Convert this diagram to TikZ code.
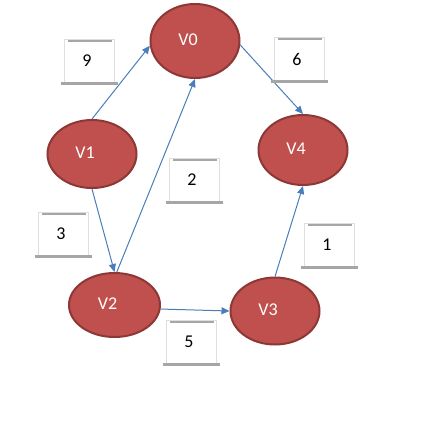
\documentclass[tikz,border=0pt]{standalone}
\usepackage{fontspec}
\setmainfont{Carlito}
\usetikzlibrary{arrows.meta,shapes.geometric}
\definecolor{nodefill}{HTML}{C0504D}
\definecolor{nodeedge}{HTML}{8C3836}
\definecolor{edgeblue}{HTML}{4A7EBB}
\definecolor{framegray}{HTML}{DEDEDE}
\definecolor{linegray}{HTML}{A6A6A6}
\newcommand\wlabel[3]{%
  \node[lbl] (#1) at (#2) {#3\hspace*{4pt}};
  \draw[topl] ([xshift=4pt,yshift=-2.5pt]#1.north west) -- ([xshift=-3pt,yshift=-2.5pt]#1.north east);
  \draw[botl] ([xshift=-3pt]#1.south west) -- ([xshift=3pt]#1.south east);
}
\newcommand\vtext[1]{\raisebox{3pt}{#1}\hspace*{14pt}}
\begin{document}
\begin{tikzpicture}[x=1pt,y=-1pt,
  vert/.style={ellipse, draw=nodeedge, line width=2pt, fill=nodefill,
    minimum width=89pt, minimum height=68pt, inner sep=0pt, text=white,
    font=\fontsize{18}{20}\selectfont},
  conn/.style={draw=edgeblue, line width=1pt, -{Triangle[length=8pt,width=7pt]}},
  lbl/.style={draw=framegray, line width=1pt, minimum width=50pt, minimum height=44pt,
    inner sep=0pt, font=\fontsize{18}{20}\selectfont},
  topl/.style={draw=linegray, line width=2.5pt},
  botl/.style={draw=linegray, line width=2.5pt}]
\fill[white] (0,0) rectangle (423,421);
\useasboundingbox (0,0) rectangle (423,421);

\node[vert, minimum height=74pt] (v0) at (195,41) {\vtext{V0}};
\node[vert] (v1) at (92,154) {\vtext{V1}};
\node[vert, minimum height=70pt] (v4) at (303,150) {\vtext{V4}};
\node[vert, minimum width=91pt, minimum height=64pt] (v2) at (114.5,305) {\vtext{V2}};
\node[vert, minimum height=67pt] (v3) at (275,311) {\vtext{V3}};

\draw[conn] (v1.north) -- (v0.186);
\draw[conn] (v0.-5) -- (v4.north);
\draw[conn] (v1.south) -- (v2.north);
\draw[conn] (v2.86) -- (v0.south);
\draw[conn] (v2.-5) -- (v3.west);
\draw[conn] (v3.north) -- (v4.south);

\wlabel{l9}{89,61}{9}
\wlabel{l6}{299,59}{6}
\wlabel{l2}{194,180}{2}
\wlabel{l3}{63,234}{3}
\wlabel{l1}{329,245}{1}
\wlabel{l5}{191,342}{5}
\end{tikzpicture}
\end{document}
